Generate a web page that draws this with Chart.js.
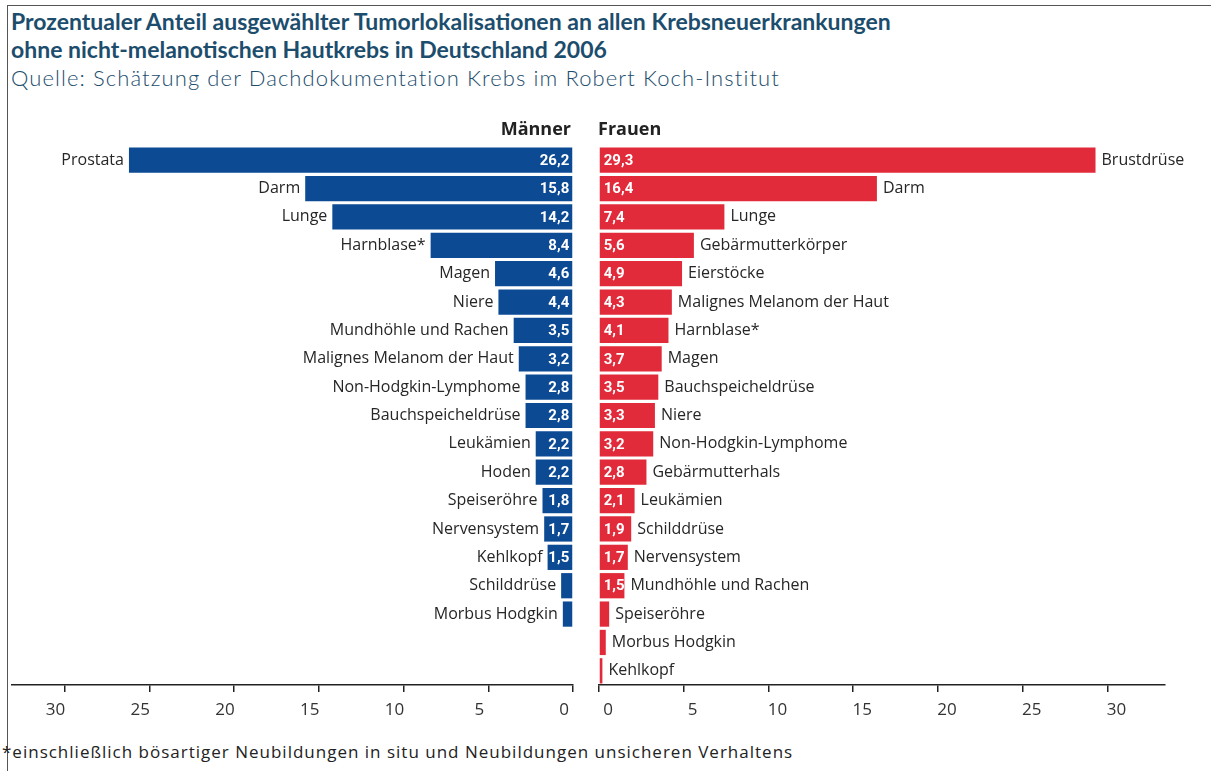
<!DOCTYPE html>
<html><head><meta charset="utf-8">
<script src="https://cdn.jsdelivr.net/npm/chart.js@4.4.0/dist/chart.umd.min.js"></script>
<style>
html,body{margin:0;padding:0;background:#fff;}
#wrap{position:relative;width:1211px;height:771px;overflow:hidden;background:#fff;}
canvas{position:absolute;left:0;top:0;}
.frame{position:absolute;left:7px;top:5px;width:1300px;height:800px;border-left:1px solid #555;border-top:1px solid #555;}
.t{position:absolute;white-space:nowrap;color:#1c4d6d;line-height:26px;}
#t1{left:11px;top:7px;font:bold 23px Lato;}
#t2{left:11px;top:35px;font:bold 23px Lato;}
#t3{left:11px;top:64px;font:300 22px Lato;letter-spacing:1.1px;}
#foot{position:absolute;left:2px;top:740px;font:17px "Open Sans";letter-spacing:1px;color:#222;white-space:nowrap;line-height:24px;}
</style></head>
<body>
<div id="wrap">
<div class="frame"></div>
<div class="t" id="t1"></div>
<div class="t" id="t2"></div>
<div class="t" id="t3"></div>
<div id="foot"></div>
<canvas id="cL" width="1211" height="771"></canvas>
<canvas id="cR" width="1211" height="771"></canvas>
</div>
<script>
const titleLines = ['Prozentualer Anteil ausgewählter Tumorlokalisationen an allen Krebsneuerkrankungen',
                    'ohne nicht-melanotischen Hautkrebs in Deutschland 2006'];
const subtitle = 'Quelle: Schätzung der Dachdokumentation Krebs im Robert Koch-Institut';
const footnote = '*einschließlich bösartiger Neubildungen in situ und Neubildungen unsicheren Verhaltens';
const headerMen = 'Männer';
const headerWomen = 'Frauen';

const categoriesMen = ['Prostata','Darm','Lunge','Harnblase*','Magen','Niere','Mundhöhle und Rachen',
  'Malignes Melanom der Haut','Non-Hodgkin-Lymphome','Bauchspeicheldrüse','Leukämien','Hoden',
  'Speiseröhre','Nervensystem','Kehlkopf','Schilddrüse','Morbus Hodgkin','',''];
const valuesMen = [26.2,15.8,14.2,8.4,4.6,4.4,3.5,3.2,2.8,2.8,2.2,2.2,1.8,1.7,1.5,0.7,0.6,null,null];

const categoriesWomen = ['Brustdrüse','Darm','Lunge','Gebärmutterkörper','Eierstöcke','Malignes Melanom der Haut',
  'Harnblase*','Magen','Bauchspeicheldrüse','Niere','Non-Hodgkin-Lymphome','Gebärmutterhals','Leukämien',
  'Schilddrüse','Nervensystem','Mundhöhle und Rachen','Speiseröhre','Morbus Hodgkin','Kehlkopf'];
const valuesWomen = [29.3,16.4,7.4,5.6,4.9,4.3,4.1,3.7,3.5,3.3,3.2,2.8,2.1,1.9,1.7,1.5,0.6,0.4,0.2];

const tickValues = [0, 5, 10, 15, 20, 25, 30];
const minLabelledValue = 1.5;

document.getElementById('t1').textContent = titleLines[0];
document.getElementById('t2').textContent = titleLines[1];
document.getElementById('t3').textContent = subtitle;
document.getElementById('foot').textContent = footnote;

const BLUE = '#0d4a94';
const RED = '#e22b3a';
const fmt = v => v.toFixed(1).replace('.', ',');

const labelPlugin = {
  id: 'barLabels',
  afterDatasetsDraw(chart, args, opts) {
    const ctx = chart.ctx;
    const meta = chart.getDatasetMeta(0);
    const left = opts.side === 'left';
    ctx.save();
    ctx.textBaseline = 'middle';
    meta.data.forEach((bar, i) => {
      const v = opts.values[i];
      if (v == null) return;
      ctx.font = '16px "Open Sans"';
      ctx.fillStyle = '#262626';
      ctx.textAlign = left ? 'right' : 'left';
      ctx.fillText(opts.cats[i], left ? bar.x - 5 : bar.x + 6, bar.y);
      if (v >= minLabelledValue) {
        ctx.font = 'bold 15px Roboto';
        ctx.fillStyle = '#ffffff';
        ctx.fillText(fmt(v), left ? bar.base - 3 : bar.base + 4, bar.y + 1);
      }
    });
    ctx.font = 'bold 18px "Open Sans"';
    ctx.fillStyle = '#222';
    ctx.textAlign = left ? 'right' : 'left';
    ctx.fillText(opts.header, left ? chart.chartArea.right - 2 : chart.chartArea.left - 1, 130);
    ctx.restore();
  }
};

function setTicks(scale) {
  scale.ticks = tickValues.map(v => ({ value: v }));
}

function makeChart(id, cats, vals, color, side, header, padL, padR, max) {
  return new Chart(document.getElementById(id), {
    type: 'bar',
    data: { labels: cats, datasets: [{ data: vals, backgroundColor: color, barPercentage: 0.89, categoryPercentage: 1 }] },
    options: {
      indexAxis: 'y', responsive: false, animation: false,
      layout: { padding: { left: padL, right: padR, top: 146, bottom: 0 } },
      plugins: { legend: { display: false }, tooltip: { enabled: false },
                 barLabels: { side, cats, values: vals, header } },
      scales: {
        y: { display: false },
        x: {
          reverse: side === 'left', min: 0, max: max,
          afterBuildTicks: setTicks,
          afterFit(s) { s.height = 86; },
          grid: { drawOnChartArea: false, drawTicks: true, tickLength: 7, color: '#222', lineWidth: 1.5 },
          border: { display: true, color: '#222', width: 1.5 },
          ticks: { font: { family: 'Open Sans', size: 17 }, color: '#333', padding: 8,
                   labelOffset: side === 'left' ? -9 : 9, maxRotation: 0, autoSkip: false }
        }
      }
    },
    plugins: [labelPlugin]
  });
}

makeChart('cL', categoriesMen, valuesMen, BLUE, 'left', headerMen, 12, 1211 - 573, 33.1);
makeChart('cR', categoriesWomen, valuesWomen, RED, 'right', headerWomen, 599, 1211 - 1165, 33.4);
</script>
</body></html>
